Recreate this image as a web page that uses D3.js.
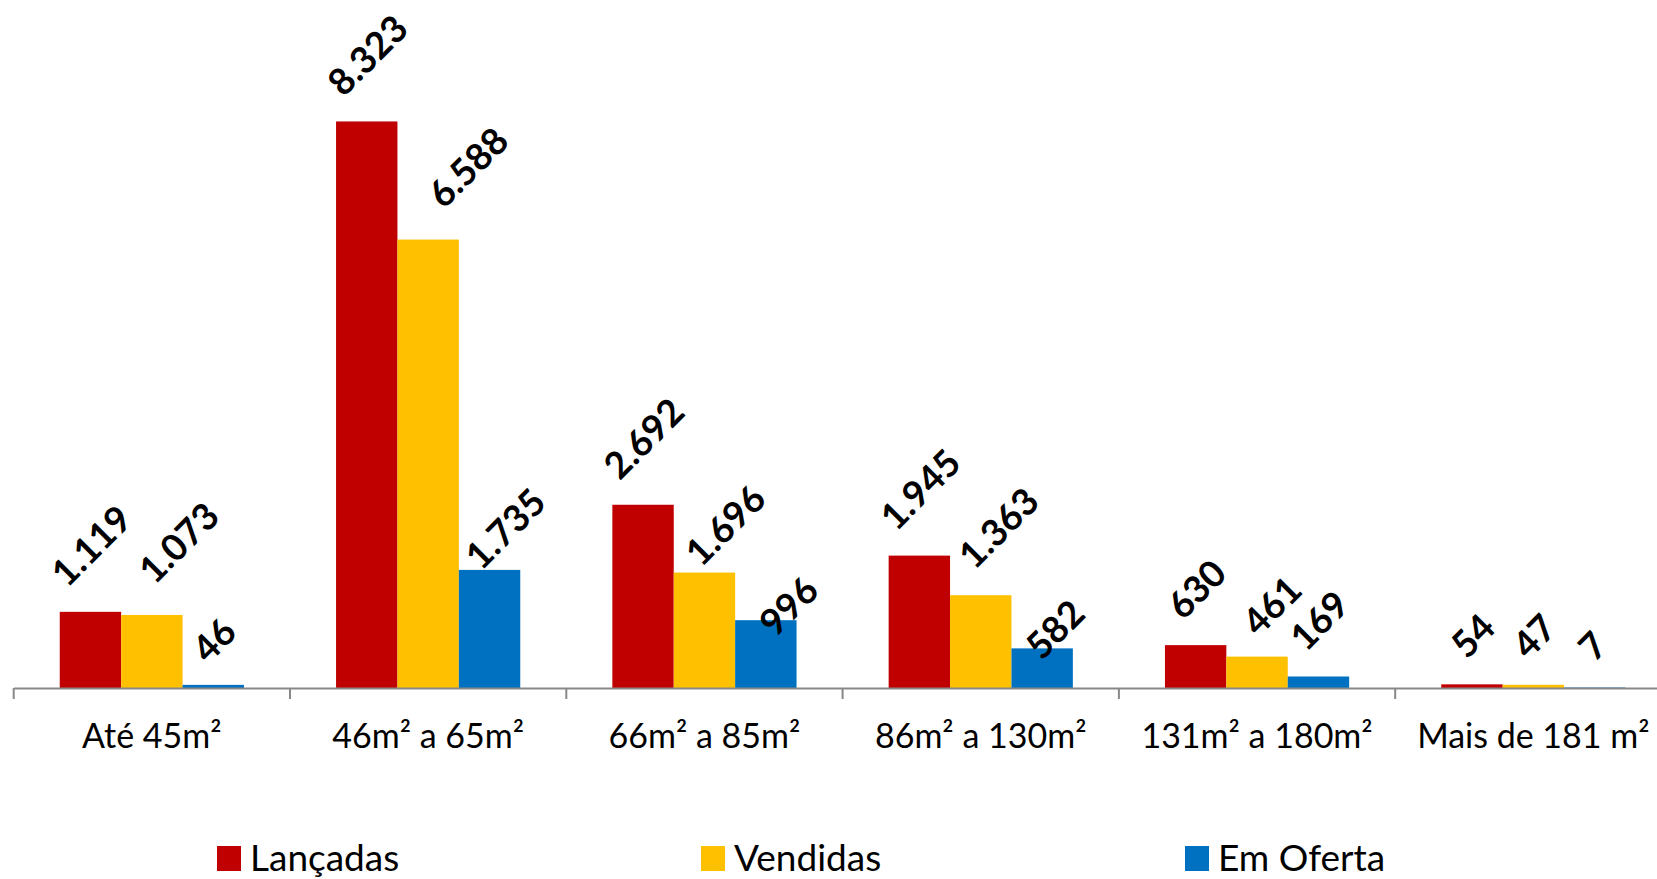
<!DOCTYPE html>
<html><head><meta charset="utf-8">
<script src="https://cdn.jsdelivr.net/npm/d3@7"></script>
<style>
html,body{margin:0;padding:0;background:#fff;}
svg{display:block;}
</style></head>
<body>
<script>
const categories = ["Até 45m²", "46m² a 65m²", "66m² a 85m²", "86m² a 130m²", "131m² a 180m²", "Mais de 181 m²"];
const seriesNames = ["Lançadas", "Vendidas", "Em Oferta"];
const lancadas = [1119, 8323, 2692, 1945, 630, 54];
const vendidas = [1073, 6588, 1696, 1363, 461, 47];
const emOferta = [46, 1735, 996, 582, 169, 7];
const seriesColors = ["#C00000", "#FFC000", "#0070C0"];
// manual nudges of the value labels (as moved in the original), per series
const labelShiftX = [[0, 0, 0, 0, 0, 0], [26, 39, 20, 17, 14, 0], [0, 15, 22, 12, 0, -3]];
const labelShiftY = [[0, 0, 0, 0, 0, 0], [6, 6, -19, 1, -5, 0], [-4, -25, -42, -37, 0, 0]];

const W = 1657, H = 879;
const fmt = v => d3.format(",")(v).replace(/,/g, ".");
const seriesValues = [lancadas, vendidas, emOferta];

const svg = d3.select("body").append("svg").attr("width", W).attr("height", H);

const axisY = 688;
const x0 = d3.scaleBand().domain(categories).range([13.7, 13.7 + 6 * 276.3]).paddingInner(0).paddingOuter(0);
const x1 = d3.scaleBand().domain(seriesNames).range([0, x0.bandwidth()]).paddingInner(0).paddingOuter(0.75);
const y = d3.scaleLinear().domain([0, 9000]).range([axisY, axisY - 9000 * 0.06807]);

const data = [];
categories.forEach((c, i) => seriesNames.forEach((s, j) => data.push({c, s, i, j, v: seriesValues[j][i]})));

// bars
svg.append("g").selectAll("rect").data(data).join("rect")
  .attr("x", d => x0(d.c) + x1(d.s))
  .attr("y", d => y(d.v))
  .attr("width", x1.bandwidth())
  .attr("height", d => y(0) - y(d.v))
  .attr("fill", d => seriesColors[d.j]);

// axis
const ax = svg.append("g").attr("transform", `translate(0,${axisY})`)
  .call(d3.axisBottom(x0).tickSizeInner(0).tickSizeOuter(0).tickFormat(""));
ax.select(".domain").attr("stroke", "#888").attr("stroke-width", 2);
ax.selectAll(".tick").remove();
// tick marks at category boundaries
const bounds = categories.map(c => x0(c));
svg.append("g").selectAll("line").data(bounds).join("line")
  .attr("x1", d => d).attr("x2", d => d)
  .attr("y1", axisY).attr("y2", axisY + 11)
  .attr("stroke", "#888").attr("stroke-width", 2);

// category labels
svg.append("g").selectAll("text").data(categories).join("text")
  .attr("x", d => x0(d) + x0.bandwidth() / 2)
  .attr("y", 748)
  .attr("text-anchor", "middle")
  .attr("font-family", "Lato, 'Open Sans', sans-serif")
  .attr("font-size", 34)
  .attr("fill", "#000")
  .text(d => d);

// value labels rotated -45
const lbl = svg.append("g").selectAll("text").data(data).join("text")
  .attr("text-anchor", "middle")
  .attr("dominant-baseline", "central")
  .attr("font-family", "Lato, 'Open Sans', sans-serif")
  .attr("font-weight", "bold")
  .attr("font-size", 37)
  .attr("fill", "#000")
  .text(d => fmt(d.v));
lbl.each(function(d) {
  const L = this.getComputedTextLength() / 1.04;
  const half = (L + 48) / (2 * Math.SQRT2);
  const cx = x0(d.c) + x1(d.s) + x1.bandwidth() / 2 + labelShiftX[d.j][d.i];
  const cy = y(d.v) - 18 - half - labelShiftY[d.j][d.i];
  d3.select(this).attr("transform", `translate(${cx},${cy}) rotate(-45)`);
});

// legend
const leg = svg.append("g").selectAll("g").data(seriesNames).join("g")
  .attr("transform", (d, i) => `translate(${217 + i * 484},0)`);
leg.append("rect").attr("x", 0).attr("y", 846).attr("width", 24).attr("height", 25)
  .attr("fill", (d, i) => seriesColors[i]);
leg.append("text").attr("x", 33).attr("y", 871)
  .attr("font-family", "Lato, 'Open Sans', sans-serif")
  .attr("font-size", 37)
  .attr("fill", "#000")
  .text(d => d);
</script>
</body></html>
